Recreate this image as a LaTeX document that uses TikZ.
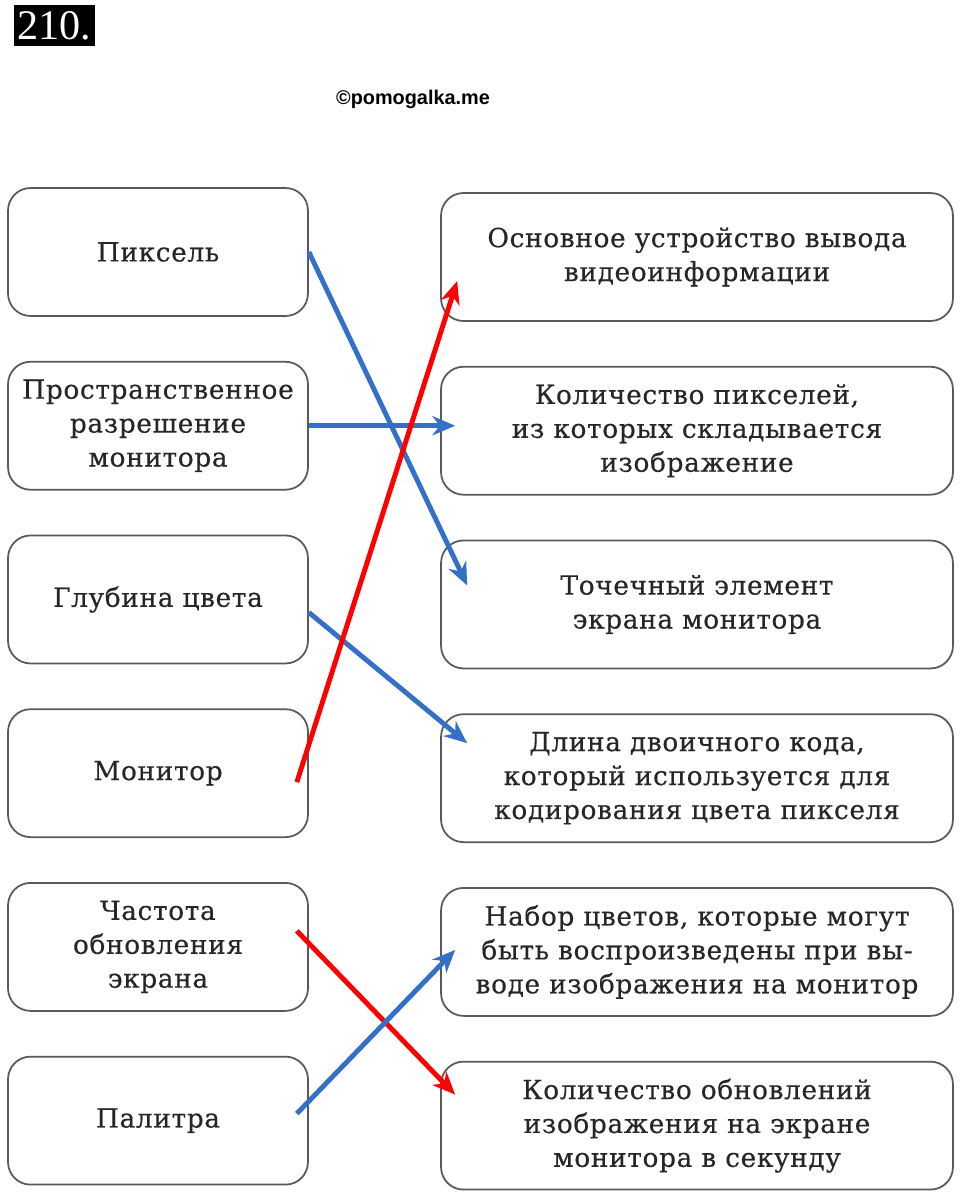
\documentclass[tikz,border=0pt]{standalone}
\usepackage{fontspec}
\usepackage{tikz}
\usetikzlibrary{arrows.meta,positioning}

\newfontfamily\boxfont[LetterSpace=2.5,FakeBold=0.4]{DejaVu Serif}
\newfontfamily\numfont{Liberation Serif}
\newfontfamily\markfont{Liberation Sans}
\definecolor{arrowblue}{RGB}{52,112,200}

\begin{document}
\begin{tikzpicture}[x=0.02cm,y=-0.02cm,>={Stealth[length=13pt,width=11pt]},node distance=0.88cm,
		left node/.style={draw=black!65,line width=1pt,rounded corners=0.45cm,minimum width=6cm,
			minimum height=2.56cm,align=center,text=black!85,font=\boxfont\fontsize{15}{19.3}\selectfont},
		right node/.style={left node,minimum width=10.24cm},
		blue arrow/.style={->,draw=arrowblue,line width=2.8pt},
		red arrow/.style={->,draw=red,line width=2.8pt}]
		
		\useasboundingbox (0,0) rectangle (960,1194);
		
		\node[fill=black,text=white,inner sep=0pt,minimum width=1.62cm,minimum height=0.82cm,
			font=\numfont\fontsize{24}{24}\selectfont] (num) at (54.5,25.5) {210.};
		\node[font=\markfont\bfseries\fontsize{11.3}{12}\selectfont] (mark) at (413,99) {©pomogalka.me};
		
		\node[left node] (pixel) at (158,252) {Пиксель};
		\node[left node] (resolution) [below=of pixel] {Пространственное\\разрешение\\монитора};
		\node[left node] (depth) [below=of resolution] {Глубина цвета};
		\node[left node] (monitor) [below=of depth] {Монитор};
		\node[left node] (refresh) [below=of monitor] {Частота\\обновления\\экрана};
		\node[left node] (palette) [below=of refresh] {Палитра};
		
		\node[right node] (device) at (697,257) {Основное устройство вывода\\видеоинформации};
		\node[right node] (count) [below=of device] {Количество пикселей,\\из которых складывается\\изображение};
		\node[right node] (dot) [below=of count] {Точечный элемент\\экрана монитора};
		\node[right node] (code) [below=of dot] {Длина двоичного кода,\\который используется для\\кодирования цвета пикселя};
		\node[right node] (colors) [below=of code] {Набор цветов, которые могут\\быть воспроизведены при вы-\\воде изображения на монитор};
		\node[right node] (updates) [below=of colors] {Количество обновлений\\изображения на экране\\монитора в секунду};
		
		\path
		(pixel.east) edge[blue arrow] ([shift={(27,-19)}]dot.west)
		(resolution.east) edge[blue arrow] ([xshift=0.3cm]resolution.east -| count.west)
		([shift={(0,13)}]depth.east) edge[blue arrow] ([shift={(27,-35)}]code.west)
		([shift={(-12,9)}]monitor.east) edge[red arrow] ([shift={(17,24)}]device.west)
		([shift={(-12,-16)}]refresh.east) edge[red arrow] ([shift={(15,-31)}]updates.west)
		([shift={(-12,-7)}]palette.east) edge[blue arrow] ([shift={(15,-2)}]colors.west);
		
\end{tikzpicture}
\end{document}
